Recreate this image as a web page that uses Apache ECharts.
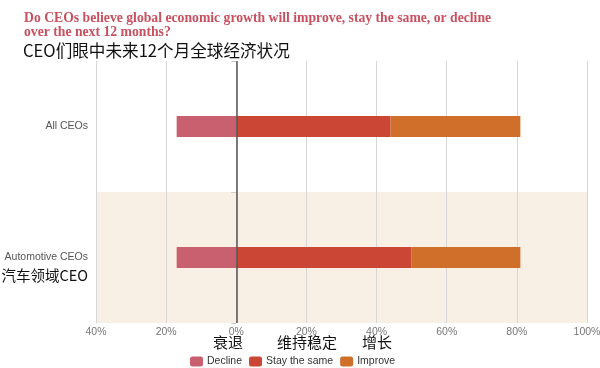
<!DOCTYPE html>
<html>
<head>
<meta charset="utf-8">
<script src="https://cdn.jsdelivr.net/npm/echarts@6/dist/echarts.min.js"></script>
<style>
html,body{margin:0;padding:0;background:#fff;}
#c{width:600px;height:368px;}
</style>
</head>
<body>
<div id="c"></div>
<script>
var categories = ["All CEOs", "Automotive CEOs"];
var categoriesZh = ["", "汽车领域CEO"];
var declineVals = [17, 17];
var stayVals = [44, 50];
var improveVals = [37, 31];
var seriesNames = ["Decline", "Stay the same", "Improve"];
var seriesNamesZh = ["衰退", "维持稳定", "增长"];
var xTicks = [-40, -20, 0, 20, 40, 60, 80, 100];

var colors = ["#c9606f", "#cc4636", "#d06f2a"];
var chart = echarts.init(document.getElementById('c'));

function mk(name, vals, color, idx) {
  var s = {
    name: name,
    type: 'bar',
    stack: 'total',
    barWidth: 21,
    itemStyle: { color: color },
    data: vals,
    silent: true
  };
  if (idx === 0) {
    s.markLine = {
      silent: true,
      symbol: 'none',
      label: { show: false },
      lineStyle: { color: '#555', width: 1.5, type: 'solid' },
      data: [{ xAxis: 0 }]
    };
  }
  return s;
}

chart.setOption({
  animation: false,
  backgroundColor: '#fff',
  textStyle: { fontFamily: 'Liberation Sans, sans-serif' },
  color: colors,
  title: [{
    text: 'Do CEOs believe global economic growth will improve, stay the same, or decline\nover the next 12 months?',
    left: 19, top: 6,
    textStyle: { fontFamily: 'Liberation Serif, serif', fontWeight: 'bold', fontSize: 13.7, color: '#c9505f', lineHeight: 14 }
  }, {
    text: 'CEO们眼中未来12个月全球经济状况',
    left: 18, top: 37,
    textStyle: { fontFamily: 'Noto Sans CJK SC', fontWeight: 'normal', fontSize: 16.6, color: '#111' }
  }],
  grid: { left: 96, right: 13, top: 61, bottom: 45, outerBoundsMode: 'none', containLabel: false },
  xAxis: {
    type: 'value',
    min: xTicks[0], max: xTicks[xTicks.length - 1], interval: 20,
    axisLine: { show: false },
    axisTick: { show: false },
    splitLine: { show: true, lineStyle: { color: '#d6d6d6', width: 1 } },
    axisLabel: {
      color: '#777', fontSize: 10.5, margin: 4,
      fontFamily: 'Liberation Sans, sans-serif',
      formatter: function (v) { return Math.abs(v) + '%'; }
    }
  },
  yAxis: {
    type: 'category',
    inverse: true,
    data: categories,
    axisLine: { show: false },
    axisTick: { show: true, length: 5, lineStyle: { color: '#ccc' } },
    splitArea: { show: true, areaStyle: { color: ['rgba(0,0,0,0)', '#f8efe5'] } },
    axisLabel: {
      margin: 8,
      formatter: function (v, i) {
        if (categoriesZh[i]) return '{blank| }\n{en|' + v + '}\n{zh|' + categoriesZh[i] + '}';
        return '{en|' + v + '}';
      },
      rich: {
        blank: { fontSize: 14, lineHeight: 22 },
        en: { fontSize: 10.5, color: '#555', lineHeight: 14, align: 'right' },
        zh: { fontSize: 14.5, color: '#111', lineHeight: 22, fontFamily: 'Noto Sans CJK SC', align: 'right' }
      }
    }
  },
  legend: {
    top: 351,
    left: 185,
    icon: 'roundRect',
    itemWidth: 13, itemHeight: 10, itemGap: 7,
    textStyle: { fontSize: 10.5, color: '#333', padding: [0, 0, 0, -1] },
    data: seriesNames
  },
  graphic: [
    { type: 'text', left: 213, top: 335, style: { text: seriesNamesZh[0], fontSize: 15, fill: '#111', fontFamily: 'Noto Sans CJK SC' } },
    { type: 'text', left: 277, top: 335, style: { text: seriesNamesZh[1], fontSize: 15, fill: '#111', fontFamily: 'Noto Sans CJK SC' } },
    { type: 'text', left: 362, top: 335, style: { text: seriesNamesZh[2], fontSize: 15, fill: '#111', fontFamily: 'Noto Sans CJK SC' } }
  ],
  series: [
    mk(seriesNames[0], declineVals.map(function (v) { return -v; }), colors[0], 0),
    mk(seriesNames[1], stayVals, colors[1], 1),
    mk(seriesNames[2], improveVals, colors[2], 2)
  ]
});
</script>
</body>
</html>
